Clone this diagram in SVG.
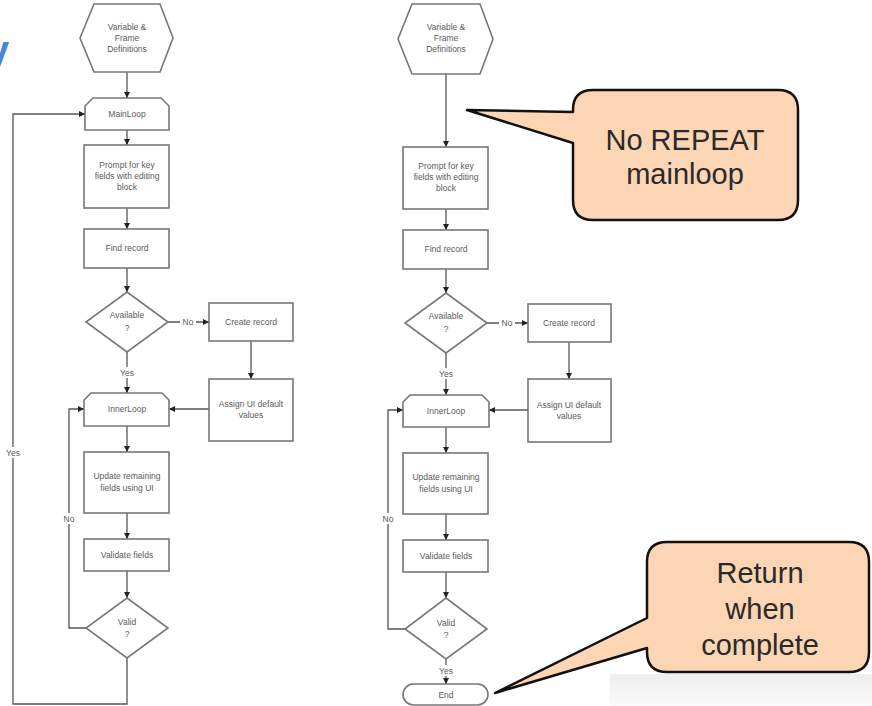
<svg xmlns="http://www.w3.org/2000/svg" width="872" height="706" viewBox="0 0 872 706">
  <defs>
    <marker id="arrow" viewBox="0 0 6 6" refX="6" refY="3" markerWidth="6" markerHeight="6" orient="auto" markerUnits="userSpaceOnUse">
      <path d="M0,0 L6,3 L0,6 Z" fill="#222"/>
    </marker>
    <linearGradient id="floor" x1="0" y1="0" x2="0" y2="1">
      <stop offset="0" stop-color="#eeeeee"/>
      <stop offset="1" stop-color="#fafafa"/>
    </linearGradient>
    <style>
      .shape { fill: #fff; stroke: #777; stroke-width: 1.6; }
      .conn { fill: none; stroke: #555; stroke-width: 1.3; }
      .arr { marker-end: url(#arrow); }
      .lbl { font-family: "Liberation Sans", Arial, sans-serif; font-size: 8.5px; fill: #5a5a5a; text-anchor: middle; }
      .bg { fill: #fff; }
      .callout { fill: #fcd5b4; stroke: #111; stroke-width: 2.5; stroke-linejoin: round; }
      .ctext { font-family: "Liberation Sans", Arial, sans-serif; font-size: 29px; fill: #2a2a2a; text-anchor: middle; }
    </style>
  </defs>

  <rect width="872" height="706" fill="#fff"/>
  <rect x="610" y="674" width="262" height="32" fill="url(#floor)"/>

  <!-- title glyph running off the left edge -->
  <text x="-13" y="64" font-family="Liberation Sans, Arial, sans-serif" font-size="40" font-weight="bold" fill="#4a86d4">y</text>

  <!-- ===== connectors ===== -->
  <g id="connectors">
    <!-- left chart -->
    <path class="conn arr" d="M127,72 V98"/>
    <path class="conn arr" d="M127,130 V145"/>
    <path class="conn arr" d="M127,208 V229"/>
    <path class="conn arr" d="M127,268 V292"/>
    <path class="conn arr" d="M168,322 H209"/>
    <path class="conn arr" d="M251,341 V379"/>
    <path class="conn arr" d="M209,409 H169"/>
    <path class="conn arr" d="M127,352 V393"/>
    <path class="conn arr" d="M127,426 V452"/>
    <path class="conn arr" d="M127,513 V539"/>
    <path class="conn arr" d="M127,571 V598"/>
    <path class="conn arr" d="M86,628 H69 V409 H84"/>
    <path class="conn arr" d="M127,658 V704 H13 V114 H85"/>
    <!-- right chart -->
    <path class="conn arr" d="M446,74 V147"/>
    <path class="conn arr" d="M446,209 V230"/>
    <path class="conn arr" d="M446,269 V293"/>
    <path class="conn arr" d="M487,323 H528"/>
    <path class="conn arr" d="M569,342 V379"/>
    <path class="conn arr" d="M528,410 H489"/>
    <path class="conn arr" d="M446,353 V395"/>
    <path class="conn arr" d="M446,427 V453"/>
    <path class="conn arr" d="M446,514 V540"/>
    <path class="conn arr" d="M446,572 V598"/>
    <path class="conn arr" d="M405,629 H388 V410 H403"/>
    <path class="conn arr" d="M446,659 V684"/>

    <!-- connector labels -->
    <rect class="bg" x="180" y="316" width="16" height="11"/>
    <text class="lbl" x="188" y="325">No</text>
    <rect class="bg" x="118" y="367" width="18" height="11"/>
    <text class="lbl" x="127" y="376">Yes</text>
    <rect class="bg" x="62" y="513" width="14" height="11"/>
    <text class="lbl" x="69" y="522">No</text>
    <rect class="bg" x="4" y="447" width="18" height="11"/>
    <text class="lbl" x="13" y="456">Yes</text>

    <rect class="bg" x="499" y="317" width="16" height="11"/>
    <text class="lbl" x="507" y="326">No</text>
    <rect class="bg" x="437" y="368" width="18" height="11"/>
    <text class="lbl" x="446" y="377">Yes</text>
    <rect class="bg" x="381" y="513" width="14" height="11"/>
    <text class="lbl" x="388" y="522">No</text>
    <rect class="bg" x="437" y="665" width="18" height="11"/>
    <text class="lbl" x="446" y="674">Yes</text>
  </g>

  <!-- ===== left chart nodes ===== -->
  <g id="L-defs">
    <polygon class="shape" points="94,4 160,4 173,38 160,72 94,72 80,38"/>
    <text class="lbl" x="127" y="30">Variable &amp;</text>
    <text class="lbl" x="127" y="41">Frame</text>
    <text class="lbl" x="127" y="52">Definitions</text>
  </g>
  <g id="L-mainloop">
    <path class="shape" d="M85,130 V106 L93,98 H161 L169,106 V130 Z"/>
    <text class="lbl" x="127" y="117">MainLoop</text>
  </g>
  <g id="L-prompt">
    <rect class="shape" x="84" y="145" width="85" height="63"/>
    <text class="lbl" x="127" y="168">Prompt for key</text>
    <text class="lbl" x="127" y="179">fields with editing</text>
    <text class="lbl" x="127" y="190">block</text>
  </g>
  <g id="L-find">
    <rect class="shape" x="84" y="229" width="85" height="39"/>
    <text class="lbl" x="127" y="251">Find record</text>
  </g>
  <g id="L-available">
    <polygon class="shape" points="127,292 168,322 127,352 86,322"/>
    <text class="lbl" x="127" y="318">Available</text>
    <text class="lbl" x="127" y="331">?</text>
  </g>
  <g id="L-create">
    <rect class="shape" x="209" y="303" width="84" height="38"/>
    <text class="lbl" x="251" y="325">Create record</text>
  </g>
  <g id="L-assign">
    <rect class="shape" x="209" y="379" width="84" height="62"/>
    <text class="lbl" x="251" y="407">Assign UI default</text>
    <text class="lbl" x="251" y="418">values</text>
  </g>
  <g id="L-innerloop">
    <path class="shape" d="M84,426 V400 L91,393 H162 L169,400 V426 Z"/>
    <text class="lbl" x="127" y="412">InnerLoop</text>
  </g>
  <g id="L-update">
    <rect class="shape" x="84" y="452" width="85" height="61"/>
    <text class="lbl" x="127" y="479">Update remaining</text>
    <text class="lbl" x="127" y="491">fields using UI</text>
  </g>
  <g id="L-validate">
    <rect class="shape" x="84" y="539" width="85" height="32"/>
    <text class="lbl" x="127" y="558">Validate fields</text>
  </g>
  <g id="L-valid">
    <polygon class="shape" points="127,598 168,628 127,658 86,628"/>
    <text class="lbl" x="127" y="625">Valid</text>
    <text class="lbl" x="127" y="637">?</text>
  </g>

  <!-- ===== right chart nodes ===== -->
  <g id="R-defs">
    <polygon class="shape" points="412,4 480,4 493,39 480,74 412,74 398,39"/>
    <text class="lbl" x="446" y="30">Variable &amp;</text>
    <text class="lbl" x="446" y="41">Frame</text>
    <text class="lbl" x="446" y="52">Definitions</text>
  </g>
  <g id="R-prompt">
    <rect class="shape" x="403" y="147" width="85" height="62"/>
    <text class="lbl" x="446" y="169">Prompt for key</text>
    <text class="lbl" x="446" y="180">fields with editing</text>
    <text class="lbl" x="446" y="191">block</text>
  </g>
  <g id="R-find">
    <rect class="shape" x="403" y="230" width="85" height="39"/>
    <text class="lbl" x="446" y="252">Find record</text>
  </g>
  <g id="R-available">
    <polygon class="shape" points="446,293 487,323 446,353 405,323"/>
    <text class="lbl" x="446" y="319">Available</text>
    <text class="lbl" x="446" y="332">?</text>
  </g>
  <g id="R-create">
    <rect class="shape" x="528" y="304" width="83" height="38"/>
    <text class="lbl" x="569" y="326">Create record</text>
  </g>
  <g id="R-assign">
    <rect class="shape" x="528" y="379" width="83" height="63"/>
    <text class="lbl" x="569" y="408">Assign UI default</text>
    <text class="lbl" x="569" y="419">values</text>
  </g>
  <g id="R-innerloop">
    <path class="shape" d="M403,427 V402 L410,395 H482 L489,402 V427 Z"/>
    <text class="lbl" x="446" y="414">InnerLoop</text>
  </g>
  <g id="R-update">
    <rect class="shape" x="403" y="453" width="85" height="61"/>
    <text class="lbl" x="446" y="480">Update remaining</text>
    <text class="lbl" x="446" y="492">fields using UI</text>
  </g>
  <g id="R-validate">
    <rect class="shape" x="403" y="540" width="85" height="32"/>
    <text class="lbl" x="446" y="559">Validate fields</text>
  </g>
  <g id="R-valid">
    <polygon class="shape" points="446,598 487,629 446,659 405,629"/>
    <text class="lbl" x="446" y="626">Valid</text>
    <text class="lbl" x="446" y="638">?</text>
  </g>
  <g id="R-end">
    <rect class="shape" x="403" y="684" width="85" height="21" rx="10.5"/>
    <text class="lbl" x="446" y="698">End</text>
  </g>

  <!-- ===== callouts ===== -->
  <g id="callout-repeat">
    <path class="callout" d="M593,90 H778 Q798,90 798,110 V200 Q798,220 778,220 H593 Q573,220 573,200 V143 L467,110 L573,112 V110 Q573,90 593,90 Z"/>
    <text class="ctext" x="685" y="150">No REPEAT</text>
    <text class="ctext" x="685" y="184">mainloop</text>
  </g>
  <g id="callout-return">
    <path class="callout" d="M667,542 H849 Q869,542 869,562 V652 Q869,672 849,672 H667 Q647,672 647,652 V648 L495,693 L647,618 V562 Q647,542 667,542 Z"/>
    <text class="ctext" x="760" y="583">Return</text>
    <text class="ctext" x="760" y="619">when</text>
    <text class="ctext" x="760" y="655">complete</text>
  </g>
</svg>
